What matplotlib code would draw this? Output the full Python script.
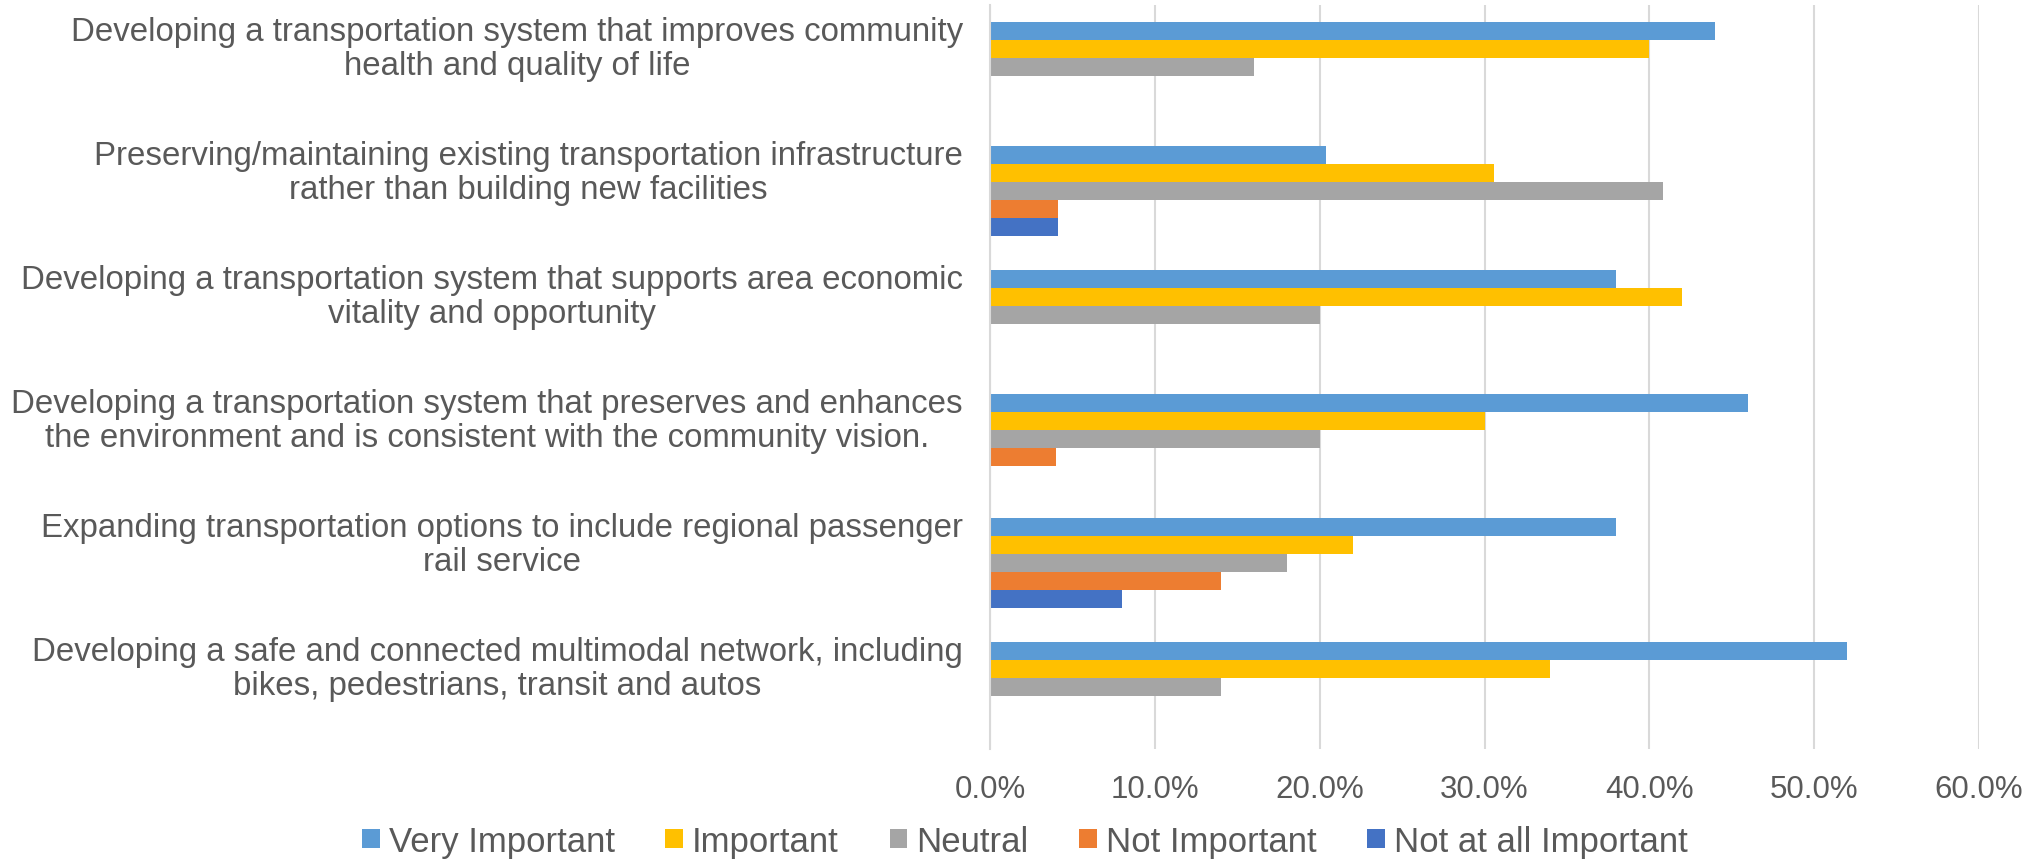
import matplotlib
matplotlib.use('Agg')
import matplotlib.pyplot as plt
import matplotlib.transforms as mtransforms
import numpy as np
from matplotlib.patches import Patch
from matplotlib.ticker import FuncFormatter

categories = [
    "Developing a transportation system that improves community\nhealth and quality of life",
    "Preserving/maintaining existing transportation infrastructure\nrather than building new facilities",
    "Developing a transportation system that supports area economic\nvitality and opportunity",
    "Developing a transportation system that preserves and enhances\nthe environment and is consistent with the community vision.",
    "Expanding transportation options to include regional passenger\nrail service",
    "Developing a safe and connected multimodal network, including\nbikes, pedestrians, transit and autos",
]
series_names = ["Very Important", "Important", "Neutral", "Not Important", "Not at all Important"]
very_important = [44.0, 20.4, 38.0, 46.0, 38.0, 52.0]
important = [40.0, 30.6, 42.0, 30.0, 22.0, 34.0]
neutral = [16.0, 40.8, 20.0, 20.0, 18.0, 14.0]
not_important = [0.0, 4.1, 0.0, 4.0, 14.0, 0.0]
not_at_all_important = [0.0, 4.1, 0.0, 0.0, 8.0, 0.0]
x_ticks = [0, 10, 20, 30, 40, 50, 60]

series = [very_important, important, neutral, not_important, not_at_all_important]
colors = ['#5B9BD5', '#FFC000', '#A5A5A5', '#ED7D31', '#4472C4']

plt.rcParams['font.family'] = ['Liberation Sans', 'DejaVu Sans']
txt = '#595959'

fig = plt.figure(figsize=(20.36, 8.62), dpi=100)
ax = fig.add_axes([990/2036, 1-750/862, (1979-990)/2036, (750-6)/862])

n = len(series)
bh = 18/124
y = np.arange(len(categories))
for i, (vals, c) in enumerate(zip(series, colors)):
    offs = (i - (n-1)/2) * bh
    ax.barh(y + offs, vals, height=bh, color=c, label=series_names[i])

ax.set_ylim(len(categories)-0.5, -0.5)
ax.set_xlim(0, 60)
ax.set_xticks(x_ticks)
ax.xaxis.set_major_formatter(FuncFormatter(lambda v, p: f"{v:.1f}%"))
ax.set_yticks(y)
ax.set_yticklabels([])
ax.tick_params(axis='y', length=0)
ax.tick_params(axis='x', length=0, pad=18, labelsize=22.5, colors=txt)
ax.grid(axis='x', color='#D9D9D9', linewidth=1.5)
ax.set_axisbelow(True)
for s in ['top', 'right', 'bottom']:
    ax.spines[s].set_visible(False)
ax.spines['left'].set_color('#D9D9D9')
ax.spines['left'].set_linewidth(1.5)

# category labels (right-aligned block, centered lines, shifted up like the reference)
trans = mtransforms.blended_transform_factory(ax.transAxes, ax.transData)
trans = trans + mtransforms.ScaledTranslation(-27/100, 18.5/100, fig.dpi_scale_trans)
for yi, lab in zip(y, categories):
    ax.text(0, yi, lab, transform=trans, ha='right', va='center',
            multialignment='center', fontsize=23.8, color=txt, linespacing=1.14)

handles = [Patch(facecolor=c, edgecolor='none') for c in colors]
fig.legend(handles, series_names, loc='center', bbox_to_anchor=(0.5034, 0.023), ncol=5,
           frameon=False, fontsize=25, labelcolor=txt, handlelength=0.51, handleheight=0.49,
           handletextpad=0.26, columnspacing=1.46)

fig.savefig('out.png', dpi=100)
